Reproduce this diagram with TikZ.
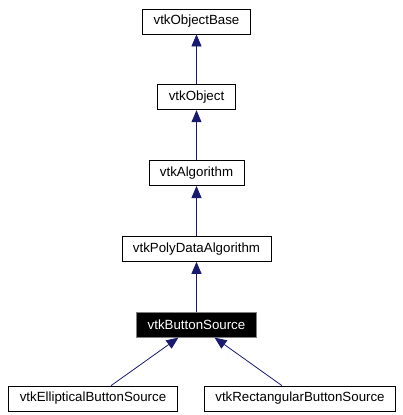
\documentclass[tikz,border=0pt]{standalone}
\usepackage{fontspec}
\setmainfont{Liberation Sans}
\usepackage{tikz}
\usetikzlibrary{shapes,arrows,arrows.meta,positioning}
\definecolor{midnightblue}{HTML}{191970}

\begin{document}
\begin{tikzpicture}[->,>={Triangle[length=12pt,width=10pt]},shorten >=0pt,node distance=50pt,
	class node/.style={draw, rectangle, line width=0.8pt, inner xsep=11pt, inner ysep=0pt, minimum height=25pt, font=\fontsize{13.3}{15}\selectfont},
	main class/.style={class node, fill=black, text=white, draw=gray}]
				\useasboundingbox (0,0) rectangle (402pt,-415pt);
				\node[class node] (1) at (196.5pt,-21.5pt) {vtkObjectBase};
				\node[class node] (2) [below=of 1] {vtkObject};
				\node[class node] (3) [below=of 2] {vtkAlgorithm};
				\node[class node] (4) [below=of 3] {vtkPolyDataAlgorithm};
				\node[main class] (5) [below=of 4] {vtkButtonSource};
				
				\node[class node] (6) [below=48pt of 5, xshift=-103.5pt] {vtkEllipticalButtonSource};
				\node[class node] (7) [below=48pt of 5, xshift=103.5pt] {vtkRectangularButtonSource};
				
				\path[midnightblue, line width=0.8pt]
				(2) edge (1)
				(3) edge (2)
				(4) edge (3)
				(5) edge (4)
				
				(6) edge (5)
				(7) edge (5);
				
\end{tikzpicture}
\end{document}
